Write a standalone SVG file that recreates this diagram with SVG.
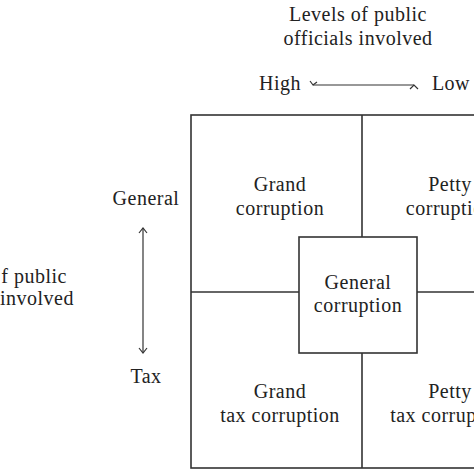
<svg xmlns="http://www.w3.org/2000/svg" width="474" height="474" viewBox="0 0 474 474">
<style>
text{font-family:"Liberation Serif","Times New Roman",serif;font-size:20px;letter-spacing:0.5px;fill:#222;text-anchor:middle}
.ln{stroke:#333;stroke-width:1.6;fill:none}
.ar{stroke:#333;stroke-width:1.2;fill:none}
.bx{stroke:#333;stroke-width:1.6;fill:#fff}
</style>
<rect width="474" height="474" fill="#fff"/>
<g id="axis-top">
<text x="358" y="21">Levels of public</text>
<text x="358" y="45">officials involved</text>
<text x="280" y="90">High</text>
<text x="451" y="90">Low</text>
</g>
<g id="axis-left">
<text x="146" y="205">General</text>
<text x="146" y="383">Tax</text>
<text x="67" y="283" style="text-anchor:end">f public</text>
<text x="74" y="305" style="text-anchor:end">involved</text>
</g>
<g id="connectors">
<line class="ar" x1="313" y1="85" x2="414" y2="85"/>
<polyline class="ar" points="310,81 313,85 317,82"/>
<polyline class="ar" points="410,89 414,85 418,89"/>
<line class="ar" x1="143" y1="228" x2="143" y2="353"/>
<polyline class="ar" points="139,233 143,228 147,233"/>
<polyline class="ar" points="139,348 143,353 147,348"/>
</g>
<g id="grid">
<rect class="ln" x="191" y="115" width="350" height="353"/>
<line class="ln" x1="362" y1="115" x2="362" y2="468"/>
<line class="ln" x1="191" y1="292" x2="541" y2="292"/>
</g>
<g id="grand-corruption">
<text x="280" y="191">Grand</text>
<text x="280" y="215">corruption</text>
</g>
<g id="petty-corruption">
<text x="450" y="191">Petty</text>
<text x="450" y="215">corruption</text>
</g>
<g id="grand-tax-corruption">
<text x="280" y="398">Grand</text>
<text x="280" y="422">tax corruption</text>
</g>
<g id="petty-tax-corruption">
<text x="450" y="398">Petty</text>
<text x="450" y="422">tax corruption</text>
</g>
<g id="general-corruption">
<rect class="bx" x="299" y="237" width="118" height="116"/>
<text x="358" y="289">General</text>
<text x="358" y="312">corruption</text>
</g>
</svg>
